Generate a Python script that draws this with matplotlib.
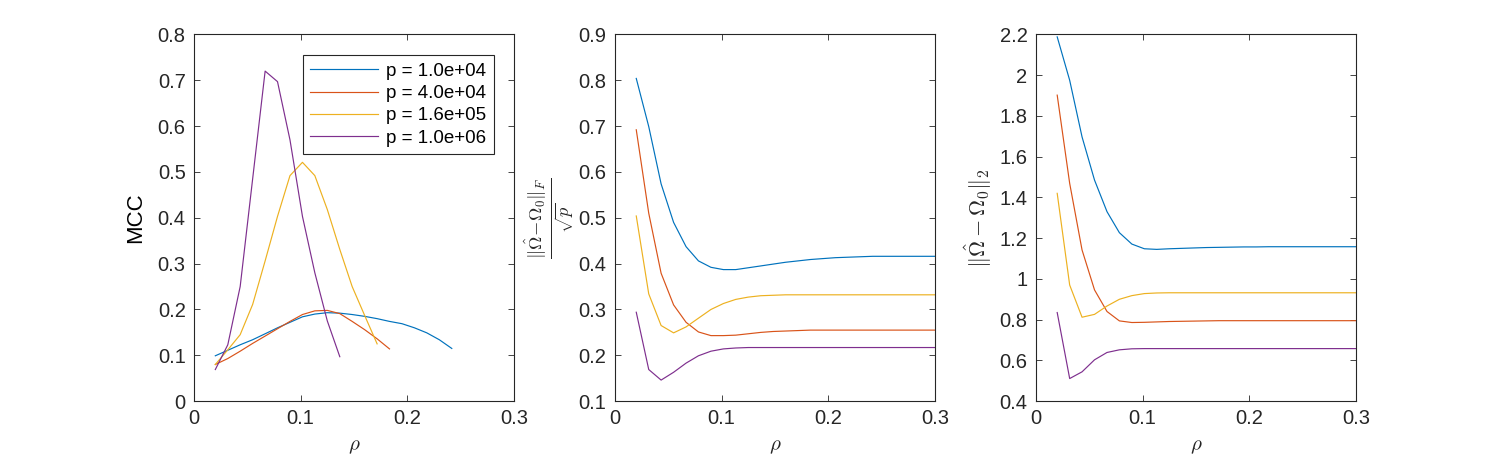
import numpy as np
import matplotlib
matplotlib.use("Agg")
import matplotlib.pyplot as plt
from matplotlib.ticker import FuncFormatter

plt.rcParams['font.family'] = ['Liberation Sans', 'DejaVu Sans']
plt.rcParams['mathtext.fontset'] = 'cm'

rho = [0.02, 0.0317, 0.0433, 0.055, 0.0667, 0.0783, 0.09, 0.1017, 0.1133, 0.125,
       0.1367, 0.1483, 0.16, 0.1717, 0.1833, 0.195, 0.2067, 0.2183, 0.23, 0.2417,
       0.2533, 0.265, 0.2767, 0.2883, 0.3]

labels = ['p = 1.0e+04', 'p = 4.0e+04', 'p = 1.6e+05', 'p = 1.0e+06']
colors = ['#0072BD', '#D95319', '#EDB120', '#7E2F8E']

# Panel 1: MCC (series end where undefined)
mcc_1e4 = [0.099, 0.111, 0.123, 0.134, 0.147, 0.160, 0.172, 0.184, 0.190, 0.193,
           0.192, 0.189, 0.185, 0.180, 0.174, 0.169, 0.160, 0.149, 0.134, 0.115]
mcc_4e4 = [0.080, 0.093, 0.109, 0.126, 0.142, 0.158, 0.174, 0.189, 0.197, 0.198,
           0.191, 0.174, 0.156, 0.136, 0.114]
mcc_16e5 = [0.080, 0.112, 0.145, 0.211, 0.306, 0.403, 0.492, 0.521, 0.492, 0.418,
            0.331, 0.250, 0.187, 0.125]
mcc_1e6 = [0.069, 0.123, 0.250, 0.485, 0.720, 0.697, 0.570, 0.403, 0.280, 0.175, 0.097]

# Panel 2: scaled Frobenius error
fro_1e4 = [0.804, 0.699, 0.574, 0.490, 0.437, 0.406, 0.392, 0.387, 0.387, 0.391,
           0.395, 0.399, 0.403, 0.406, 0.409, 0.411, 0.413, 0.414, 0.415, 0.416,
           0.416, 0.416, 0.416, 0.416, 0.416]
fro_4e4 = [0.692, 0.510, 0.379, 0.310, 0.272, 0.251, 0.243, 0.243, 0.244, 0.247,
           0.250, 0.252, 0.253, 0.254, 0.255, 0.255, 0.255, 0.255, 0.255, 0.255,
           0.255, 0.255, 0.255, 0.255, 0.255]
fro_16e5 = [0.504, 0.334, 0.265, 0.249, 0.262, 0.281, 0.300, 0.313, 0.322, 0.327,
            0.330, 0.331, 0.332, 0.332, 0.332, 0.332, 0.332, 0.332, 0.332, 0.332,
            0.332, 0.332, 0.332, 0.332, 0.332]
fro_1e6 = [0.294, 0.169, 0.146, 0.163, 0.183, 0.199, 0.209, 0.214, 0.216, 0.217,
           0.217, 0.217, 0.217, 0.217, 0.217, 0.217, 0.217, 0.217, 0.217, 0.217,
           0.217, 0.217, 0.217, 0.217, 0.217]

# Panel 3: spectral error
spec_1e4 = [2.188, 1.975, 1.697, 1.485, 1.330, 1.227, 1.171, 1.148, 1.145, 1.148,
            1.150, 1.152, 1.154, 1.155, 1.156, 1.157, 1.157, 1.158, 1.158, 1.158,
            1.158, 1.158, 1.158, 1.158, 1.158]
spec_4e4 = [1.902, 1.469, 1.142, 0.946, 0.840, 0.794, 0.786, 0.787, 0.789, 0.791,
            0.792, 0.793, 0.794, 0.795, 0.795, 0.795, 0.795, 0.795, 0.795, 0.795,
            0.795, 0.795, 0.795, 0.795, 0.795]
spec_16e5 = [1.420, 0.970, 0.812, 0.826, 0.867, 0.900, 0.918, 0.928, 0.931, 0.932,
             0.932, 0.932, 0.932, 0.932, 0.932, 0.932, 0.932, 0.932, 0.932, 0.932,
             0.932, 0.932, 0.932, 0.932, 0.932]
spec_1e6 = [0.835, 0.511, 0.544, 0.603, 0.639, 0.652, 0.657, 0.658, 0.658, 0.658,
            0.658, 0.658, 0.658, 0.658, 0.658, 0.658, 0.658, 0.658, 0.658, 0.658,
            0.658, 0.658, 0.658, 0.658, 0.658]

panels = [
    ([mcc_1e4, mcc_4e4, mcc_16e5, mcc_1e6], (0, 0.8), np.arange(0, 0.81, 0.1), 'MCC'),
    ([fro_1e4, fro_4e4, fro_16e5, fro_1e6], (0.1, 0.9), np.arange(0.1, 0.91, 0.1),
     r'$\frac{\|\hat{\Omega}\!-\!\Omega_0\|_F}{\sqrt{p}}$'),
    ([spec_1e4, spec_4e4, spec_16e5, spec_1e6], (0.4, 2.2), np.arange(0.4, 2.21, 0.2),
     r'$\|\hat{\Omega}-\Omega_0\|_2$'),
]

fig = plt.figure(figsize=(14.98, 4.59), dpi=100)
lefts = [0.1295, 0.4105, 0.6915]
axcol = '#262626'
gfmt = FuncFormatter(lambda v, pos: ('%g' % round(v, 4)))

for i, (series, ylim, yt, ylab) in enumerate(panels):
    ax = fig.add_axes([lefts[i], 0.126, 0.2136, 0.799])
    for s, c, lab in zip(series, colors, labels):
        ax.plot(rho[:len(s)], s, color=c, lw=0.85, label=lab)
    ax.set_xlim(0, 0.3)
    ax.set_ylim(*ylim)
    ax.set_xticks([0, 0.1, 0.2, 0.3])
    ax.set_yticks(yt)
    ax.xaxis.set_major_formatter(gfmt)
    ax.yaxis.set_major_formatter(gfmt)
    ax.tick_params(direction='in', length=4, width=0.6, top=True, right=True,
                   labelsize=14.5, colors=axcol, pad=6)
    for sp in ax.spines.values():
        sp.set_color(axcol)
        sp.set_linewidth(0.8)
    ax.set_xlabel(r'$\rho$', fontsize=15, color=axcol, labelpad=6)
    if i == 0:
        ax.set_ylabel(ylab, fontsize=16, color='black', labelpad=8)
        leg = ax.legend(loc='upper right', bbox_to_anchor=(0.9375, 0.943),
                        borderaxespad=0, fontsize=13.5,
                        handlelength=3.6, handletextpad=0.45, borderpad=0.4,
                        labelspacing=0.27, fancybox=False, framealpha=1,
                        edgecolor=axcol)
        leg.get_frame().set_linewidth(0.8)
    elif i == 1:
        ax.set_ylabel(ylab, fontsize=19, color=axcol, labelpad=1)
    else:
        ax.set_ylabel(ylab, fontsize=16, color=axcol, labelpad=4)

fig.savefig('out.png', dpi=100, facecolor='white')
